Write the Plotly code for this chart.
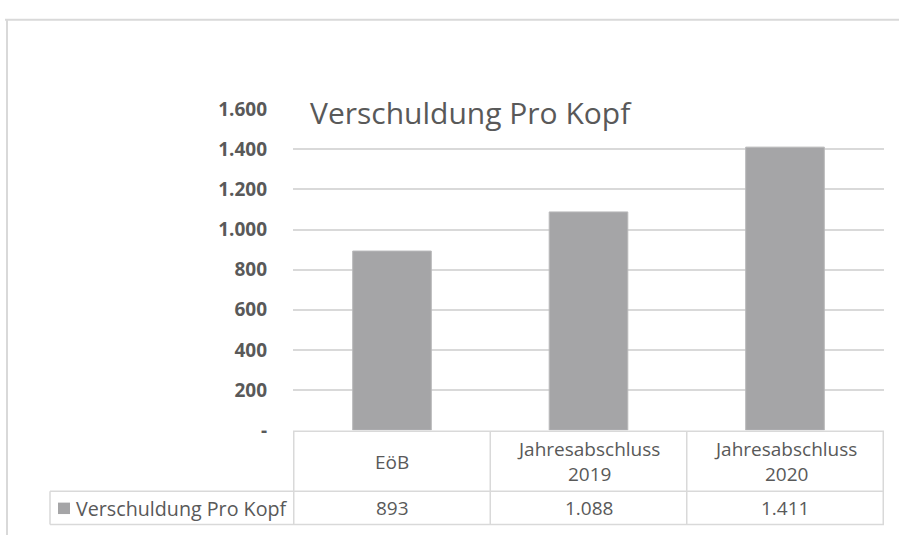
import plotly.graph_objects as go

categories = ["EöB", "Jahresabschluss<br>2019", "Jahresabschluss<br>2020"]
values = [893, 1088, 1411]
value_labels = ["893", "1.088", "1.411"]
series_name = "Verschuldung Pro Kopf"
title_text = "Verschuldung Pro Kopf"
tick_vals = [0, 200, 400, 600, 800, 1000, 1200, 1400, 1600]
tick_text = ["-", "200", "400", "600", "800", "1.000", "1.200", "1.400", "1.600"]

W, H = 899, 548
BAR = "#a5a5a7"
LINE = "#d9d9d9"
TXT = "#595959"
FONT = "Open Sans"

def px(x):
    return x / W

def py(y):
    return 1 - y / H

fig = go.Figure()
fig.add_trace(go.Bar(
    x=categories, y=values, name=series_name,
    marker=dict(color=BAR, line=dict(color="#b8b8ba", width=1)),
    width=0.4, showlegend=False, hoverinfo="x+y",
))

shapes = []
# outer frame
shapes.append(dict(type="line", xref="paper", yref="paper", x0=px(5), x1=1, y0=py(7), y1=py(7), line=dict(color=LINE, width=2)))
shapes.append(dict(type="line", xref="paper", yref="paper", x0=px(7), x1=px(7), y0=py(7), y1=0, line=dict(color=LINE, width=2)))
# data table grid
shapes.append(dict(type="line", xref="paper", yref="paper", x0=px(293), x1=px(884), y0=py(439), y1=py(439), line=dict(color=LINE, width=1.5)))
shapes.append(dict(type="line", xref="paper", yref="paper", x0=px(50), x1=px(884), y0=py(502), y1=py(502), line=dict(color=LINE, width=1.5)))
shapes.append(dict(type="line", xref="paper", yref="paper", x0=px(50), x1=px(884), y0=py(537), y1=py(537), line=dict(color=LINE, width=1.5)))
for b in [-0.5, 0.5, 1.5, 2.5]:
    shapes.append(dict(type="line", xref="x", yref="paper", x0=b, x1=b, y0=py(439), y1=py(537), line=dict(color=LINE, width=1.5)))
shapes.append(dict(type="line", xref="paper", yref="paper", x0=px(50), x1=px(50), y0=py(502), y1=py(537), line=dict(color=LINE, width=1.5)))
# legend key
shapes.append(dict(type="rect", xref="paper", yref="paper", x0=px(58), x1=px(70), y0=py(526), y1=py(514), fillcolor=BAR, line=dict(width=0)))

annotations = []
annotations.append(dict(text=title_text, xref="paper", yref="paper", x=px(308), y=py(104), xanchor="left", yanchor="middle",
                        showarrow=False, font=dict(family=FONT, size=30, color=TXT)))
for c, v in zip(categories, value_labels):
    annotations.append(dict(text=c, xref="x", yref="paper", x=c, y=py(471), xanchor="center", yanchor="middle",
                            showarrow=False, font=dict(family=FONT, size=19, color=TXT)))
    annotations.append(dict(text=v, xref="x", yref="paper", x=c, y=py(520), xanchor="center", yanchor="middle",
                            showarrow=False, font=dict(family=FONT, size=19, color=TXT)))
annotations.append(dict(text=series_name, xref="paper", yref="paper", x=px(74), y=py(520), xanchor="left", yanchor="middle",
                        showarrow=False, font=dict(family=FONT, size=19.7, color=TXT)))

fig.update_layout(
    width=W, height=H,
    margin=dict(l=0, r=0, t=0, b=0),
    paper_bgcolor="white", plot_bgcolor="white",
    xaxis=dict(domain=[px(293), px(884)], showticklabels=False, showgrid=False, zeroline=False, showline=False, ticks=""),
    yaxis=dict(domain=[py(438), py(101)], range=[0, 1600], tickvals=tick_vals, ticktext=tick_text,
               showgrid=True, gridcolor=LINE, gridwidth=2, zeroline=False, showline=False, ticks="",
               ticklabelstandoff=25,
               tickfont=dict(family=FONT, size=19, color=TXT, weight="bold")),
    shapes=shapes, annotations=annotations,
    bargap=0.6,
)

post = ("var d=document.getElementById('{plot_id}');"
        "d.style.position='fixed';d.style.top='0px';d.style.left='0px';"
        "document.body.style.margin='0';document.body.style.overflow='hidden';")

fig.write_html("out.html", config={"responsive": False, "displayModeBar": False}, post_script=post)
